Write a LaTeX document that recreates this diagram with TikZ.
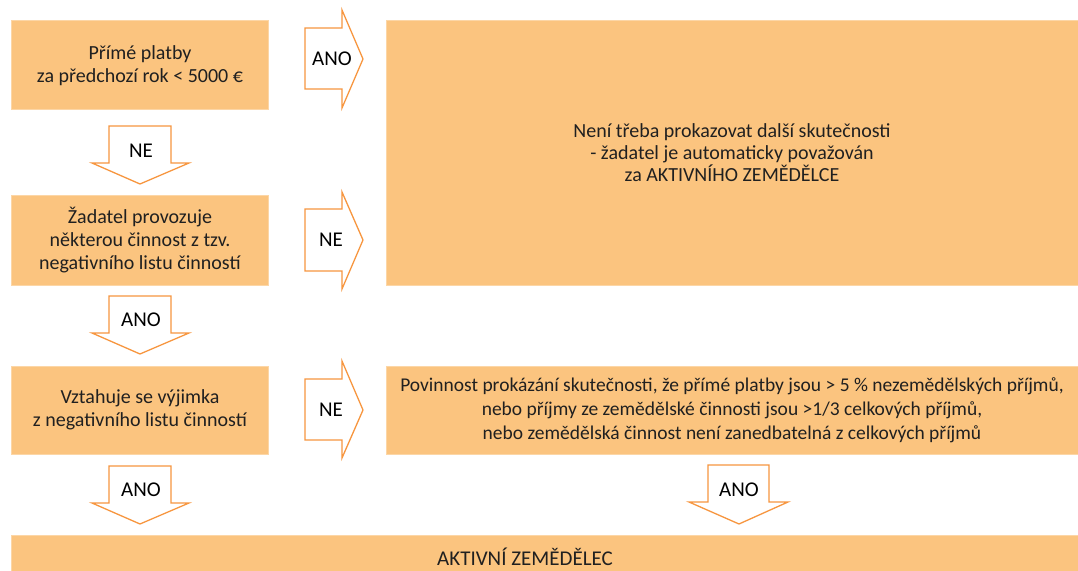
\documentclass[tikz,border=0pt]{standalone}
\usepackage{fontspec}
\setmainfont{Carlito}
\definecolor{boxfill}{HTML}{FBC47F}
\definecolor{boxedge}{HTML}{FCD6A6}
\definecolor{arrowline}{HTML}{F7963F}
\definecolor{txt}{HTML}{202020}
\tikzset{
  box/.style={fill=boxfill, draw=boxedge, line width=1bp, inner sep=0pt, align=center, text=txt},
  blockarrow/.style={fill=white, draw=arrowline, line width=1.3bp, line join=miter},
  arrowlabel/.style={inner sep=0pt, text=black, font=\fontsize{21bp}{23bp}\selectfont},
}
\begin{document}
\begin{tikzpicture}[x=1bp,y=-1bp,font=\fontsize{20bp}{23bp}\selectfont]
\clip (0,0) rectangle (1078,571);
\fill[white] (0,0) rectangle (1078,571);
% boxes
\node[box, minimum width=256bp, minimum height=89bp] (b1) at (140,65.5) {Přímé platby\\za předchozí rok < 5000 €};
\node[box, minimum width=256bp, minimum height=89bp] (b2) at (140,240.5) {Žadatel provozuje\\některou činnost z tzv.\\negativního listu činností};
\node[box, minimum width=256bp, minimum height=88bp] (b3) at (140,410) {Vztahuje se výjimka\\z negativního listu činností};
\node[box, minimum width=692bp, minimum height=264bp, font=\fontsize{20bp}{22bp}\selectfont] (big) at (732,153) {Není třeba prokazovat další skutečnosti\\- žadatel je automaticky považován\\za AKTIVNÍHO ZEMĚDĚLCE};
\node[box, minimum width=692bp, minimum height=88bp, font=\fontsize{19.5bp}{24bp}\selectfont] (b4) at (732,410) {Povinnost prokázání skutečnosti, že přímé platby jsou > 5 \% nezemědělských příjmů,\\nebo příjmy ze zemědělské činnosti jsou >1/3 celkových příjmů,\\nebo zemědělská činnost není zanedbatelná z celkových příjmů};
\node[box, minimum width=1066bp, minimum height=50bp] (fin) at (545,560) {};
\node[anchor=base west, inner sep=0pt, text=txt, font=\fontsize{21bp}{23bp}\selectfont] (fint) at (437,565) {AKTIVNÍ ZEMĚDĚLEC};
% right arrows
\draw[blockarrow] (305,28) -- (342,28) -- (342,10) -- (363,59) -- (342,108) -- (342,89) -- (305,89) -- cycle;
\node[arrowlabel] (a1) at (332,59) {ANO};
\draw[blockarrow] (305,209) -- (342,209) -- (342,192) -- (363,240) -- (342,289) -- (342,271) -- (305,271) -- cycle;
\node[arrowlabel] (a2) at (331,240) {NE};
\draw[blockarrow] (305,379) -- (342,379) -- (342,361) -- (363,410) -- (342,458) -- (342,440) -- (305,440) -- cycle;
\node[arrowlabel] (a3) at (331,410) {NE};
% down arrows
\draw[blockarrow] (109,126) -- (171,126) -- (171,163) -- (189,163) -- (140,184) -- (92,163) -- (109,163) -- cycle;
\node[arrowlabel] (d1) at (141,151) {NE};
\draw[blockarrow] (109,296) -- (171,296) -- (171,333) -- (189,333) -- (140,354) -- (92,333) -- (109,333) -- cycle;
\node[arrowlabel] (d2) at (141,320) {ANO};
\draw[blockarrow] (109,466) -- (171,466) -- (171,503) -- (189,503) -- (140,524) -- (92,503) -- (109,503) -- cycle;
\node[arrowlabel] (d3) at (141,490) {ANO};
\draw[blockarrow] (708,465) -- (769,465) -- (769,502) -- (788,502) -- (739,524) -- (689,502) -- (708,502) -- cycle;
\node[arrowlabel] (d4) at (739,490) {ANO};
\end{tikzpicture}
\end{document}
